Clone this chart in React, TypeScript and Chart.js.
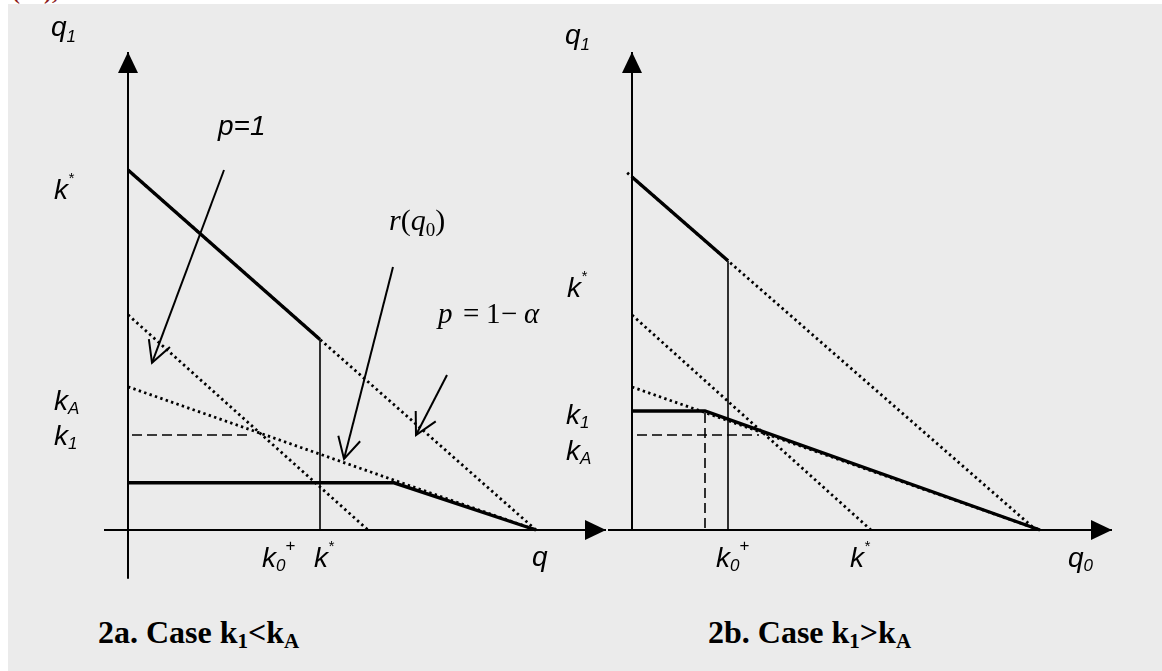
import React, { useEffect, useRef } from 'react';
import { Chart, registerables } from 'chart.js';

Chart.register(...registerables);

type Pt = { x: number; y: number };
type Pointer = { from: Pt; to: Pt };
type Tip = { at: Pt; dir: 'up' | 'right' };

// ---------- Panel 2a: case k1 < kA (q0 on the horizontal axis, q1 vertical) ----------
const aQ0Axis: Pt[] = [{ x: -0.6, y: 0 }, { x: 11.95, y: 0 }];
const aQ1Axis: Pt[] = [{ x: 0, y: -1.22 }, { x: 0, y: 11.95 }];
const aLineAlpha: Pt[] = [{ x: 0, y: 9.0 }, { x: 10.2, y: 0 }]; // p = 1 - alpha
const aLineOne: Pt[] = [{ x: 0, y: 5.38 }, { x: 6.0, y: 0 }]; // p = 1
const aLineR: Pt[] = [{ x: 0, y: 3.58 }, { x: 10.2, y: 0 }]; // r(q0)
const aUpper: Pt[] = [{ x: 0, y: 9.0 }, { x: 4.8, y: 4.76 }];
const aLower: Pt[] = [{ x: 0, y: 1.18 }, { x: 6.65, y: 1.18 }, { x: 10.2, y: 0 }];
const aKStar: Pt[] = [{ x: 4.8, y: 0 }, { x: 4.8, y: 4.76 }];
const aK1Level: Pt[] = [{ x: 0.1, y: 2.375 }, { x: 3.05, y: 2.375 }];
const aPointers: Pointer[] = [
  { from: { x: 2.4, y: 9.0 }, to: { x: 0.6, y: 4.18 } },
  { from: { x: 6.625, y: 6.575 }, to: { x: 5.4, y: 1.775 } },
  { from: { x: 7.975, y: 3.875 }, to: { x: 7.2, y: 2.375 } },
];
const aTips: Tip[] = [
  { at: { x: 11.95, y: 0 }, dir: 'right' },
  { at: { x: 0, y: 11.95 }, dir: 'up' },
];

// ---------- Panel 2b: case k1 > kA ----------
const bQ0Axis: Pt[] = [{ x: -0.6, y: 0 }, { x: 12.0, y: 0 }];
const bQ1Axis: Pt[] = [{ x: 0, y: 0 }, { x: 0, y: 11.95 }];
const bLineAlpha: Pt[] = [{ x: -0.12, y: 8.93 }, { x: 10.1, y: 0 }];
const bLineOne: Pt[] = [{ x: 0, y: 5.375 }, { x: 5.975, y: 0 }];
const bLineR: Pt[] = [{ x: 0, y: 3.575 }, { x: 10.2, y: 0 }];
const bUpper: Pt[] = [{ x: 0, y: 8.825 }, { x: 2.4, y: 6.73 }];
const bLower: Pt[] = [{ x: 0, y: 2.975 }, { x: 1.825, y: 2.975 }, { x: 10.2, y: 0 }];
const bKStar: Pt[] = [{ x: 2.4, y: 0 }, { x: 2.4, y: 6.73 }];
const bKALevel: Pt[] = [{ x: 0.125, y: 2.375 }, { x: 3.175, y: 2.375 }];
const bK0Drop: Pt[] = [{ x: 1.825, y: 0.05 }, { x: 1.825, y: 2.975 }];
const bTips: Tip[] = [
  { at: { x: 12.0, y: 0 }, dir: 'right' },
  { at: { x: 0, y: 11.95 }, dir: 'up' },
];

// value window shared by both panels (40 px per unit)
const X_MIN = -2;
const X_MAX = 12.5;
const Y_MIN = -2;
const Y_MAX = 12.5;
const CANVAS_W = 580;
const CANVAS_H = 580;

const BG = '#ebebeb';
const SANS = '"Liberation Sans", Arial, sans-serif';
const SERIF = '"Liberation Serif", "Times New Roman", serif';

type Kind = 'thick' | 'axis' | 'thin' | 'dotted' | 'dashed' | 'pointer';

function line(data: Pt[], kind: Kind) {
  const width = { thick: 3.4, axis: 2, thin: 1.6, dotted: 2.8, dashed: 1.6, pointer: 2 }[kind];
  const dash = kind === 'dotted' ? [2.4, 3.3] : kind === 'dashed' ? [10, 5] : [];
  return {
    data,
    showLine: true,
    borderColor: '#000',
    borderWidth: width,
    borderDash: dash,
    pointRadius: 0,
    pointHoverRadius: 0,
    fill: false,
    tension: 0,
    clip: false as const,
  };
}

function headsPlugin(tips: Tip[], pointers: Pointer[]) {
  return {
    id: 'heads',
    afterDatasetsDraw(chart: any) {
      const { ctx, scales } = chart;
      const sx = scales.x;
      const sy = scales.y;
      ctx.save();
      ctx.fillStyle = '#000';
      ctx.strokeStyle = '#000';
      // filled axis arrowheads
      for (const t of tips) {
        const px = sx.getPixelForValue(t.at.x);
        const py = sy.getPixelForValue(t.at.y);
        const ang = t.dir === 'right' ? 0 : -Math.PI / 2;
        const len = 21;
        const half = 10;
        ctx.save();
        ctx.translate(px, py);
        ctx.rotate(ang);
        ctx.beginPath();
        ctx.moveTo(0, 0);
        ctx.lineTo(-len, -half);
        ctx.lineTo(-len, half);
        ctx.closePath();
        ctx.fill();
        ctx.restore();
      }
      // open arrowheads on the pointer lines
      ctx.lineWidth = 2;
      for (const p of pointers) {
        const fx = sx.getPixelForValue(p.from.x);
        const fy = sy.getPixelForValue(p.from.y);
        const tx = sx.getPixelForValue(p.to.x);
        const ty = sy.getPixelForValue(p.to.y);
        const back = Math.atan2(fy - ty, fx - tx);
        const len = 24;
        const spread = (28 * Math.PI) / 180;
        ctx.beginPath();
        ctx.moveTo(tx + len * Math.cos(back - spread), ty + len * Math.sin(back - spread));
        ctx.lineTo(tx, ty);
        ctx.lineTo(tx + len * Math.cos(back + spread), ty + len * Math.sin(back + spread));
        ctx.stroke();
      }
      ctx.restore();
    },
  };
}

function Panel(props: { left: number; top: number; datasets: any[]; tips: Tip[]; pointers: Pointer[] }) {
  const ref = useRef<HTMLCanvasElement | null>(null);
  useEffect(() => {
    if (!ref.current) return;
    const chart = new Chart(ref.current, {
      type: 'scatter',
      data: { datasets: props.datasets },
      options: {
        animation: false,
        responsive: false,
        maintainAspectRatio: false,
        events: [],
        layout: { padding: 0 },
        plugins: { legend: { display: false }, tooltip: { enabled: false } },
        scales: {
          x: { type: 'linear', min: X_MIN, max: X_MAX, display: false },
          y: { type: 'linear', min: Y_MIN, max: Y_MAX, display: false },
        },
      },
      plugins: [headsPlugin(props.tips, props.pointers)],
    } as any);
    return () => chart.destroy();
  }, []);
  return (
    <canvas
      ref={ref}
      width={CANVAS_W}
      height={CANVAS_H}
      style={{ position: 'absolute', left: props.left, top: props.top, width: CANVAS_W, height: CANVAS_H }}
    />
  );
}

function Txt(props: {
  x: number;
  base: number;
  size: number;
  serif?: boolean;
  italic?: boolean;
  bold?: boolean;
  children: React.ReactNode;
}) {
  const k = props.serif ? 0.8375 : 0.846;
  return (
    <div
      style={{
        position: 'absolute',
        left: props.x,
        top: props.base - k * props.size,
        fontSize: props.size,
        lineHeight: '1',
        fontFamily: props.serif ? SERIF : SANS,
        fontStyle: props.italic ? 'italic' : 'normal',
        fontWeight: props.bold ? 'bold' : 'normal',
        whiteSpace: 'nowrap',
        color: '#000',
      }}
    >
      {props.children}
    </div>
  );
}

function Shift(props: { size: number; dy: number; italic?: boolean; children: React.ReactNode }) {
  return (
    <span
      style={{
        fontSize: props.size,
        position: 'relative',
        top: props.dy,
        fontStyle: props.italic === undefined ? 'inherit' : props.italic ? 'italic' : 'normal',
      }}
    >
      {props.children}
    </span>
  );
}

const LBL = 28;
const SUB = 17;

function KSub(props: { x: number; base: number; sub: string }) {
  return (
    <Txt x={props.x} base={props.base} size={LBL} italic>
      k<Shift size={SUB} dy={4}>{props.sub}</Shift>
    </Txt>
  );
}

function KStar(props: { x: number; base: number }) {
  return (
    <Txt x={props.x} base={props.base} size={LBL} italic>
      k<Shift size={15} dy={-16}>*</Shift>
    </Txt>
  );
}

function KZeroPlus(props: { x: number; base: number }) {
  return (
    <Txt x={props.x} base={props.base} size={LBL} italic>
      k<Shift size={SUB} dy={4}>0</Shift>
      <Shift size={SUB} dy={-16} italic={false}>+</Shift>
    </Txt>
  );
}

const aDatasets = [
  line(aUpper, 'thick'),
  line(aLower, 'thick'),
  line(aQ0Axis, 'axis'),
  line(aQ1Axis, 'axis'),
  line(aKStar, 'thin'),
  line(aLineAlpha, 'dotted'),
  line(aLineOne, 'dotted'),
  line(aLineR, 'dotted'),
  line(aK1Level, 'dashed'),
  ...aPointers.map((p) => line([p.from, p.to], 'pointer')),
];

const bDatasets = [
  line(bUpper, 'thick'),
  line(bLower, 'thick'),
  line(bQ0Axis, 'axis'),
  line(bQ1Axis, 'axis'),
  line(bKStar, 'thin'),
  line(bLineAlpha, 'dotted'),
  line(bLineOne, 'dotted'),
  line(bLineR, 'dotted'),
  line(bKALevel, 'dashed'),
  line(bK0Drop, 'dashed'),
];

export default function App() {
  return (
    <div
      style={{
        position: 'absolute',
        left: 0,
        top: 0,
        width: 1162,
        height: 671,
        overflow: 'hidden',
        background: '#fff',
      }}
    >
      <div
        style={{
          position: 'absolute',
          left: 12,
          top: -21,
          fontFamily: SERIF,
          fontWeight: 'bold',
          fontSize: 24,
          lineHeight: '1',
          color: '#8e1b1b',
        }}
      >
        (12),
      </div>
      <div style={{ position: 'absolute', left: 8, top: 4, right: 0, bottom: 0, background: BG }} />

      <Panel left={48} top={30} datasets={aDatasets} tips={aTips} pointers={aPointers} />
      <Panel left={552} top={30} datasets={bDatasets} tips={bTips} pointers={[]} />

      {/* panel 2a labels */}
      <Txt x={51} base={37} size={LBL} italic>
        q<Shift size={SUB} dy={6}>1</Shift>
      </Txt>
      <KStar x={54} base={200} />
      <KSub x={54} base={411} sub="A" />
      <KSub x={54} base={446} sub="1" />
      <Txt x={218} base={136} size={LBL} italic>
        p=1
      </Txt>
      <Txt x={389} base={230} size={30} serif>
        <i>r</i>(<i>q</i>
        <Shift size={19} dy={6}>0</Shift>)
      </Txt>
      <Txt x={438} base={323} size={29} serif italic>p</Txt>
      <Txt x={463} base={323} size={29} serif>=</Txt>
      <Txt x={486} base={323} size={29} serif>1</Txt>
      <Txt x={501} base={323} size={29} serif>−</Txt>
      <Txt x={524} base={323} size={29} serif italic>α</Txt>
      <KZeroPlus x={262} base={568} />
      <KStar x={314} base={568} />
      <Txt x={532} base={567} size={LBL} italic>
        q
      </Txt>

      {/* panel 2b labels */}
      <Txt x={565} base={45} size={LBL} italic>
        q<Shift size={SUB} dy={6}>1</Shift>
      </Txt>
      <KStar x={567} base={298} />
      <KSub x={566} base={425} sub="1" />
      <KSub x={566} base={461} sub="A" />
      <KZeroPlus x={716} base={568} />
      <KStar x={850} base={568} />
      <Txt x={1068} base={568} size={LBL} italic>
        q<Shift size={SUB} dy={4}>0</Shift>
      </Txt>

      {/* captions */}
      <Txt x={98} base={643} size={32} serif bold>
        2a. Case k<Shift size={21} dy={5}>1</Shift>
        {'<'}k<Shift size={21} dy={5}>A</Shift>
      </Txt>
      <Txt x={708} base={643} size={32} serif bold>
        2b. Case k<Shift size={21} dy={5}>1</Shift>
        {'>'}k<Shift size={21} dy={5}>A</Shift>
      </Txt>
    </div>
  );
}
